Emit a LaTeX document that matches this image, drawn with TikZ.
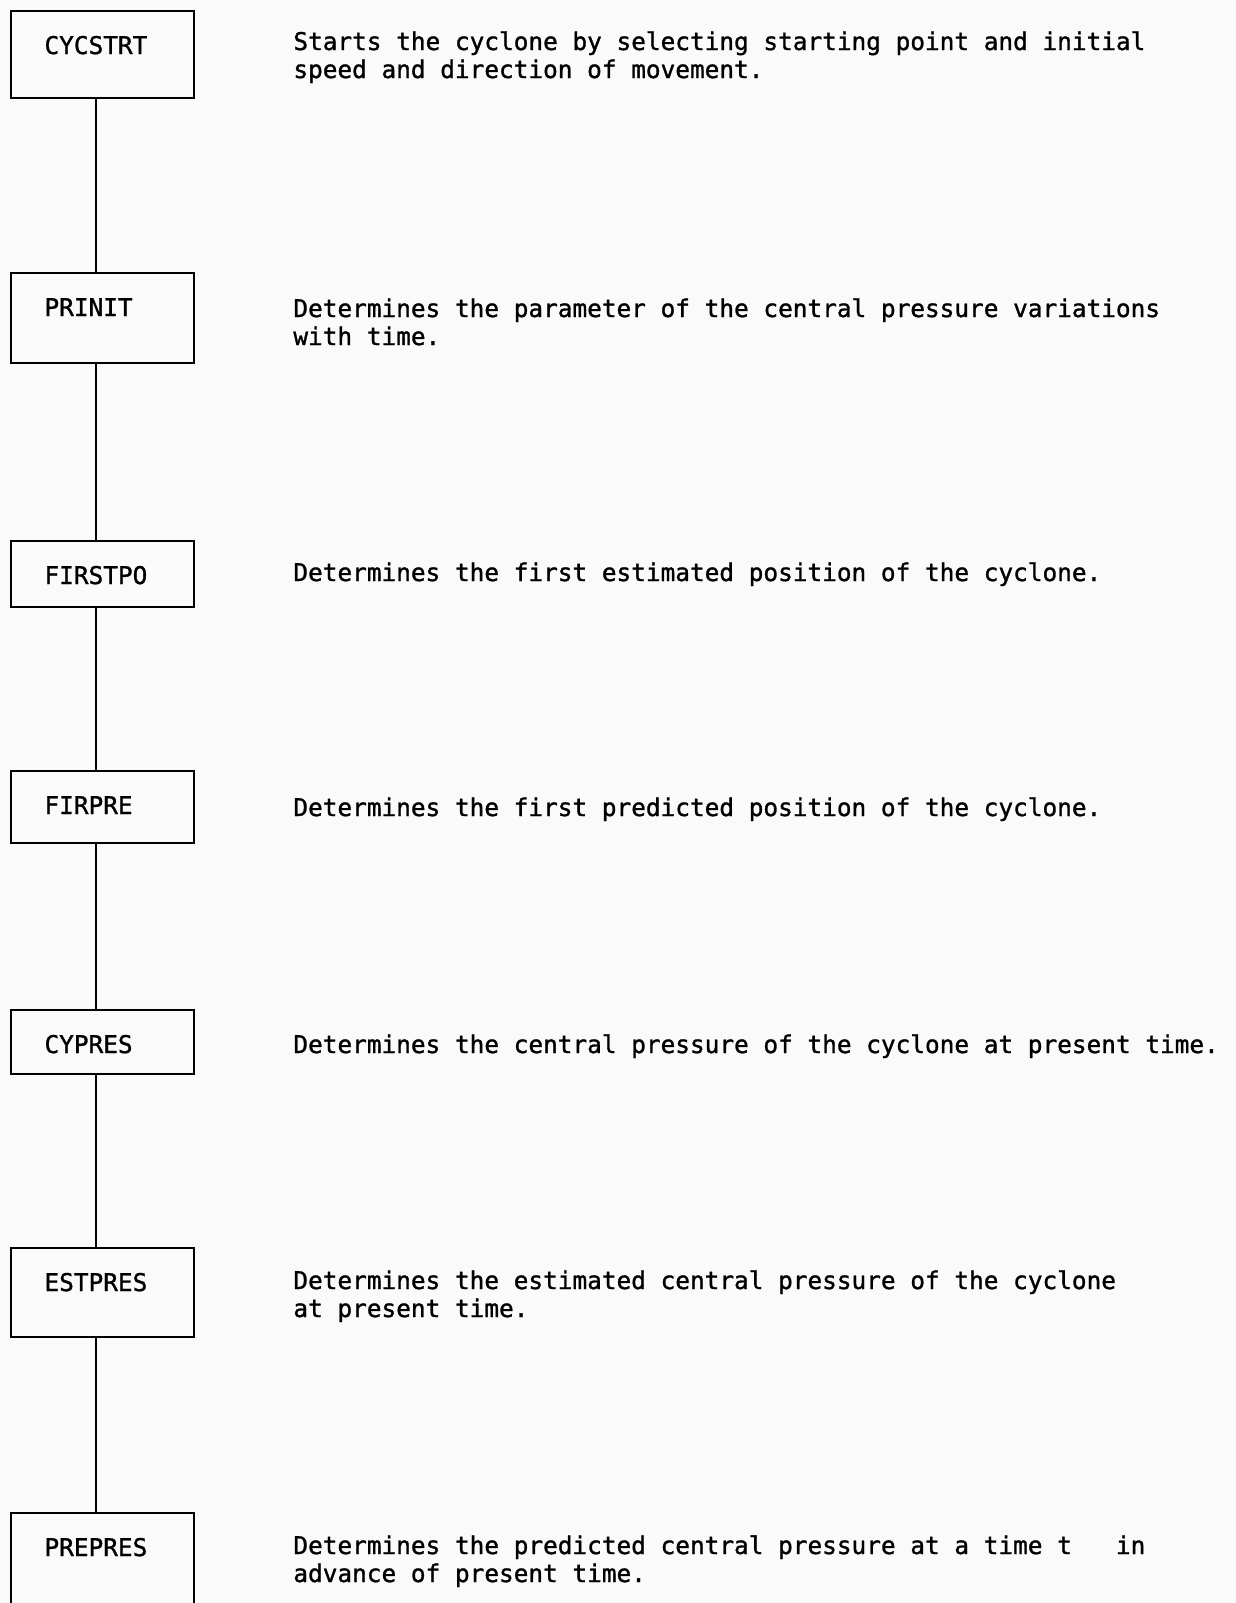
\documentclass[tikz,border=0pt]{standalone}
\usepackage{fontspec}
\newfontfamily\typefont[FakeBold=1.2]{DejaVu Sans Mono}

\begin{document}
\begin{tikzpicture}[x=0.5pt, y=-0.5pt]
\tikzstyle{prog_box}=[rectangle, draw, line width=1pt, anchor=north west, minimum width=91.5pt, inner xsep=16.5pt, inner ysep=0pt, text width=58pt, align=left, text height=21.5pt, font=\typefont\fontsize{12.2}{14}\selectfont]
\tikzstyle{prog_txt}=[anchor=base west, inner sep=0pt, align=left, font=\typefont\fontsize{12.2}{14}\selectfont]
\tikzstyle{link}=[line width=1pt]
%
\fill [black!2] (0,0) rectangle (1236,1603);
\useasboundingbox (0,0) rectangle (1236,1603);
\coordinate (spine) at (96,0);

\node [prog_box, text depth=22pt] (cycstrt) at (10,10) {CYCSTRT};
\node [prog_box, text depth=23.5pt] (prinit) at (10,272) {PRINIT};
\node [prog_box, text depth=11.5pt] (firstpo) at (10,540) {FIRSTPO};
\node [prog_box, text depth=14.5pt] (firpre) at (10,770) {FIRPRE};
\node [prog_box, text depth=10.5pt] (cypres) at (10,1009) {CYPRES};
\node [prog_box, text depth=23pt] (estpres) at (10,1247) {ESTPRES};
\node [prog_box, text depth=30pt] (prepres) at (10,1512) {PREPRES};

\draw [link] (cycstrt.south -| spine) -- (prinit.north -| spine);
\draw [link] (prinit.south -| spine) -- (firstpo.north -| spine);
\draw [link] (firstpo.south -| spine) -- (firpre.north -| spine);
\draw [link] (firpre.south -| spine) -- (cypres.north -| spine);
\draw [link] (cypres.south -| spine) -- (estpres.north -| spine);
\draw [link] (estpres.south -| spine) -- (prepres.north -| spine);
%
% base of a two-line text is its second line
\node [prog_txt] (cycstrt_txt) at (293,78) {Starts the cyclone by selecting starting point and initial\\speed and direction of movement.};
\node [prog_txt] (prinit_txt) at (293,345) {Determines the parameter of the central pressure variations\\with time.};
\node [prog_txt] (firstpo_txt) at (293,581) {Determines the first estimated position of the cyclone.};
\node [prog_txt] (firpre_txt) at (293,816) {Determines the first predicted position of the cyclone.};
\node [prog_txt] (cypres_txt) at (293,1053) {Determines the central pressure of the cyclone at present time.};
\node [prog_txt] (estpres_txt) at (293,1317) {Determines the estimated central pressure of the cyclone\\at present time.};
\node [prog_txt] (prepres_txt) at (293,1582) {Determines the predicted central pressure at a time t~~~in\\advance of present time.};
%
\end{tikzpicture}
\end{document}
